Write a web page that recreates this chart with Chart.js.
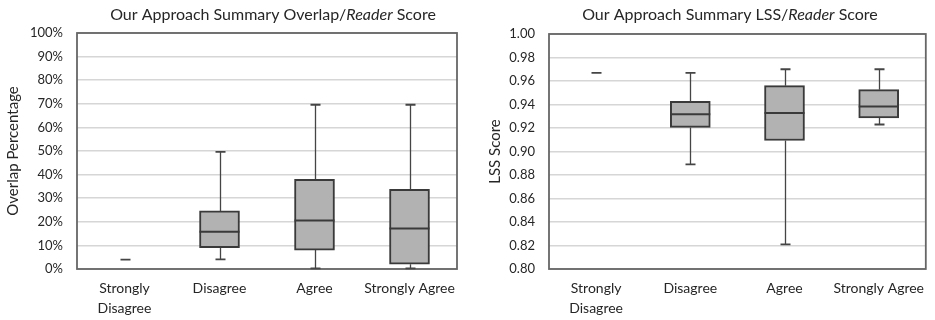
<!DOCTYPE html>
<html>
<head>
<meta charset="utf-8">
<script src="https://cdn.jsdelivr.net/npm/chart.js@4.4.1/dist/chart.umd.min.js"></script>
<style>
  html, body { margin: 0; padding: 0; background: #ffffff; }
  #wrap { position: relative; width: 935px; height: 320px; overflow: hidden; }
  #left { position: absolute; left: 0; top: 0; }
  #right { position: absolute; left: 470px; top: 0; }
</style>
</head>
<body>
<div id="wrap">
  <canvas id="left" width="470" height="320"></canvas>
  <canvas id="right" width="465" height="320"></canvas>
</div>
<script>
// ---------- data ----------
const categories = [['Strongly', 'Disagree'], 'Disagree', 'Agree', 'Strongly Agree'];

// Overlap / Reader score (percent)
const overlapMin    = [4.0, 4.1, 0.3, 0.3];
const overlapQ1     = [null, 9.0, 8.0, 2.0];
const overlapMedian = [null, 15.8, 20.6, 17.2];
const overlapQ3     = [null, 24.6, 38.0, 33.8];
const overlapMax    = [4.0, 49.6, 69.6, 69.6];
const overlapTicks  = [0, 10, 20, 30, 40, 50, 60, 70, 80, 90, 100];

// LSS / Reader score
const lssMin    = [0.967, 0.889, 0.821, 0.923];
const lssQ1     = [null, 0.9205, 0.9094, 0.9285];
const lssMedian = [null, 0.9316, 0.9328, 0.9384];
const lssQ3     = [null, 0.9426, 0.9560, 0.9526];
const lssMax    = [0.967, 0.967, 0.970, 0.970];
const lssTicks  = [0.80, 0.82, 0.84, 0.86, 0.88, 0.90, 0.92, 0.94, 0.96, 0.98, 1.00];

// ---------- styling ----------
const FONT = 'Lato, "Open Sans", "DejaVu Sans", sans-serif';
const TEXT = '#262626';
const BOX_FILL = '#b2b2b2';
const BOX_LINE = '#3a3a3a';
const WHISKER = '#454545';
const GRID = '#d6d6d6';
const FRAME = '#666666';

const boxPlugin = {
  id: 'boxWhisker',
  beforeDatasetsDraw(chart) {
    const a = chart.chartArea, ctx = chart.ctx;
    ctx.save();
    ctx.strokeStyle = FRAME;
    ctx.lineWidth = 1.8;
    ctx.strokeRect(a.left, a.top, a.right - a.left, a.bottom - a.top);
    ctx.restore();
  },
  afterDatasetsDraw(chart) {
    const st = chart.options.plugins.boxWhisker;
    const xs = chart.scales.x, ys = chart.scales.y, ctx = chart.ctx;
    const meta = chart.getDatasetMeta(0);
    ctx.save();
    for (let i = 0; i < st.min.length; i++) {
      const x = Math.round(xs.getPixelForValue(i)) + 0.5;
      const yMin = ys.getPixelForValue(st.min[i]);
      const yMax = ys.getPixelForValue(st.max[i]);
      const hasBox = st.q1[i] !== null;
      ctx.strokeStyle = WHISKER;
      ctx.lineWidth = 1.3;
      ctx.beginPath();
      if (hasBox) {
        const yQ1 = ys.getPixelForValue(st.q1[i]);
        const yQ3 = ys.getPixelForValue(st.q3[i]);
        ctx.moveTo(x, yMax); ctx.lineTo(x, yQ3);
        ctx.moveTo(x, yQ1); ctx.lineTo(x, yMin);
      } else {
        ctx.moveTo(x, yMax); ctx.lineTo(x, yMin);
      }
      ctx.stroke();
      // caps
      ctx.lineWidth = 1.8;
      ctx.beginPath();
      ctx.moveTo(x - 5, yMin); ctx.lineTo(x + 5, yMin);
      ctx.moveTo(x - 5, yMax); ctx.lineTo(x + 5, yMax);
      ctx.stroke();
      // median
      if (hasBox) {
        const el = meta.data[i];
        const half = el.width / 2;
        const yMed = ys.getPixelForValue(st.median[i]);
        ctx.strokeStyle = BOX_LINE;
        ctx.lineWidth = 2;
        ctx.beginPath();
        ctx.moveTo(el.x - half, yMed); ctx.lineTo(el.x + half, yMed);
        ctx.stroke();
      }
    }
    ctx.restore();
  },
  afterDraw(chart) {
    const st = chart.options.plugins.boxWhisker;
    const ctx = chart.ctx;
    const parts = st.title;
    ctx.save();
    ctx.fillStyle = TEXT;
    ctx.textBaseline = 'middle';
    let total = 0;
    const widths = parts.map(p => {
      ctx.font = (p[1] ? 'italic ' : '') + st.titleSize + 'px ' + FONT;
      const w = ctx.measureText(p[0]).width;
      total += w;
      return w;
    });
    let x = st.titleX - total / 2;
    parts.forEach((p, k) => {
      ctx.font = (p[1] ? 'italic ' : '') + st.titleSize + 'px ' + FONT;
      ctx.textAlign = 'left';
      ctx.fillText(p[0], x, st.titleY);
      x += widths[k];
    });
    ctx.restore();
  }
};

function makeChart(id, cfg) {
  return new Chart(document.getElementById(id), {
    type: 'bar',
    data: {
      labels: categories,
      datasets: [{
        data: cfg.q1.map((v, i) => v === null ? null : [v, cfg.q3[i]]),
        backgroundColor: BOX_FILL,
        borderColor: BOX_LINE,
        borderWidth: 2,
        borderSkipped: false,
        barThickness: 40
      }]
    },
    options: {
      responsive: false,
      devicePixelRatio: 1,
      animation: false,
      layout: { padding: { top: cfg.padTop, right: cfg.padRight, left: 0, bottom: 0 } },
      plugins: {
        legend: { display: false },
        tooltip: { enabled: false },
        title: { display: false },
        boxWhisker: {
          min: cfg.min, q1: cfg.q1, median: cfg.median, q3: cfg.q3, max: cfg.max,
          title: cfg.title, titleX: cfg.titleX, titleY: 15, titleSize: 16
        }
      },
      scales: {
        x: {
          grid: { display: false, drawTicks: false },
          border: { display: false },
          ticks: { color: TEXT, font: { family: FONT, size: 14, lineHeight: 1.4 }, padding: 10, maxRotation: 0, autoSkip: false },
          afterFit(s) { s.height = 51; }
        },
        y: {
          min: cfg.ticks[0],
          max: cfg.ticks[cfg.ticks.length - 1],
          afterBuildTicks(s) { s.ticks = cfg.ticks.map(v => ({ value: v })); },
          grid: { color: GRID, lineWidth: 1.5, drawTicks: false },
          border: { display: false },
          ticks: { color: TEXT, font: { family: FONT, size: 13 }, padding: 14, callback: cfg.fmt },
          title: { display: true, text: cfg.yTitle, color: TEXT, font: { family: FONT, size: 15 }, padding: { top: cfg.yTitlePad, bottom: 0 } },
          afterFit(s) { s.width = cfg.yWidth; }
        }
      }
    },
    plugins: [boxPlugin]
  });
}

makeChart('left', {
  min: overlapMin, q1: overlapQ1, median: overlapMedian, q3: overlapQ3, max: overlapMax,
  ticks: overlapTicks, fmt: v => v + '%',
  yTitle: 'Overlap Percentage', yTitlePad: 4, yWidth: 77,
  padTop: 33, padRight: 13,
  title: [['Our Approach Summary Overlap/', false], ['Reader', true], [' Score', false]],
  titleX: 273
});

makeChart('right', {
  min: lssMin, q1: lssQ1, median: lssMedian, q3: lssQ3, max: lssMax,
  ticks: lssTicks, fmt: v => v.toFixed(2),
  yTitle: 'LSS Score', yTitlePad: 16, yWidth: 79,
  padTop: 34, padRight: 8,
  title: [['Our Approach Summary LSS/', false], ['Reader', true], [' Score', false]],
  titleX: 260
});
</script>
</body>
</html>
